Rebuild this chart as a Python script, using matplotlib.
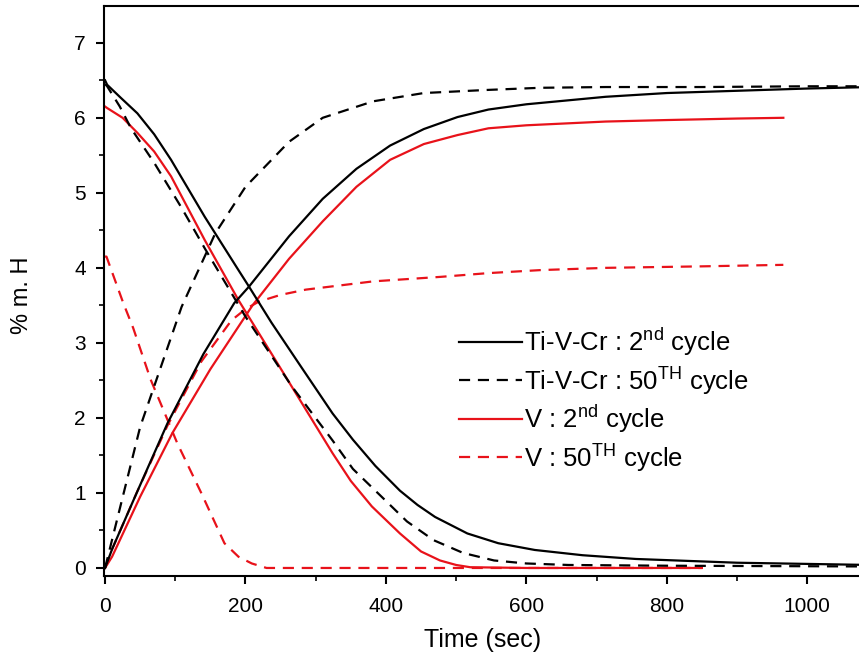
import matplotlib
matplotlib.use('Agg')
import matplotlib.pyplot as plt
from matplotlib.ticker import MultipleLocator

plt.rcParams['font.family'] = ['Liberation Sans', 'DejaVu Sans']
plt.rcParams['mathtext.fontset'] = 'custom'
plt.rcParams['mathtext.rm'] = 'Liberation Sans'

# absorption curves (rising)
t_tvc2_abs = [0, 10, 45, 89, 140, 184, 205, 262, 310, 358, 406, 454, 502, 546, 600, 713, 800, 900, 1000, 1090]
v_tvc2_abs = [0, 0.25, 1.0, 1.93, 2.85, 3.53, 3.75, 4.42, 4.92, 5.32, 5.63, 5.85, 6.01, 6.11, 6.18, 6.28, 6.33, 6.36, 6.39, 6.41]

t_tvc50_abs = [0, 17, 50, 109, 157, 200, 262, 310, 382, 454, 541, 620, 713, 850, 1000, 1090]
v_tvc50_abs = [0, 0.64, 1.88, 3.48, 4.46, 5.08, 5.68, 6.0, 6.22, 6.33, 6.37, 6.40, 6.41, 6.41, 6.42, 6.42]

t_v2_abs = [0, 10, 50, 96, 150, 210, 262, 310, 358, 406, 454, 502, 546, 600, 713, 800, 900, 966]
v_v2_abs = [0, 0.15, 0.95, 1.80, 2.65, 3.5, 4.12, 4.62, 5.08, 5.44, 5.65, 5.77, 5.86, 5.9, 5.95, 5.97, 5.99, 6.0]

t_v50_abs = [0, 10, 45, 89, 137, 180, 200, 219, 250, 286, 382, 478, 546, 620, 713, 850, 966]
v_v50_abs = [0, 0.25, 1.0, 1.9, 2.75, 3.3, 3.45, 3.55, 3.64, 3.71, 3.82, 3.88, 3.93, 3.97, 4.0, 4.02, 4.04]

# desorption curves (falling)
t_tvc2_des = [0, 3, 22, 46, 70, 94, 142, 190, 205, 237, 280, 324, 353, 385, 420, 445, 470, 516, 560, 612, 680, 756, 900, 1090]
v_tvc2_des = [6.5, 6.44, 6.27, 6.06, 5.78, 5.44, 4.68, 3.97, 3.75, 3.27, 2.67, 2.06, 1.71, 1.36, 1.03, 0.84, 0.68, 0.46, 0.33, 0.24, 0.17, 0.12, 0.07, 0.04]

t_tvc50_des = [0, 3, 21, 37, 70, 109, 142, 200, 266, 324, 353, 396, 430, 468, 510, 554, 600, 660, 800, 1090]
v_tvc50_des = [6.45, 6.42, 6.15, 5.86, 5.4, 4.8, 4.26, 3.35, 2.42, 1.7, 1.32, 0.93, 0.62, 0.37, 0.2, 0.1, 0.06, 0.04, 0.03, 0.02]

t_v2_des = [0, 3, 25, 46, 70, 94, 142, 190, 250, 324, 350, 380, 420, 450, 477, 500, 520, 600, 700, 850]
v_v2_des = [6.15, 6.13, 6.0, 5.8, 5.55, 5.22, 4.37, 3.57, 2.66, 1.53, 1.16, 0.82, 0.46, 0.22, 0.1, 0.04, 0.01, 0.0, 0.0, 0.0]

t_v50_des = [0, 2, 26, 40, 65, 103, 137, 170, 190, 209, 230, 400, 600, 850]
v_v50_des = [4.15, 4.15, 3.53, 3.2, 2.51, 1.66, 1.0, 0.33, 0.15, 0.06, 0.0, 0.0, 0.0, 0.0]

labels = [r'Ti-V-Cr : 2$^{\mathrm{nd}}$ cycle', r'Ti-V-Cr : 50$^{\mathrm{TH}}$ cycle',
          r'V : 2$^{\mathrm{nd}}$ cycle', r'V : 50$^{\mathrm{TH}}$ cycle']

red = '#e8121a'
dash = (0, (5, 3.5))

fig = plt.figure(figsize=(8.59, 6.60), dpi=100)
ax = fig.add_axes([104 / 859, 1 - 576 / 660, 1 - 104 / 859 + 0.01, 570 / 660])

lw = 1.6
ax.plot(t_v2_des, v_v2_des, color=red, lw=lw)
ax.plot(t_v50_des, v_v50_des, color=red, lw=lw, ls=dash)
ax.plot(t_v2_abs, v_v2_abs, color=red, lw=lw)
ax.plot(t_v50_abs, v_v50_abs, color=red, lw=lw, ls=dash)
ax.plot(t_tvc2_des, v_tvc2_des, color='black', lw=lw)
ax.plot(t_tvc50_des, v_tvc50_des, color='black', lw=lw, ls=dash)
h1, = ax.plot(t_tvc2_abs, v_tvc2_abs, color='black', lw=lw)
h2, = ax.plot(t_tvc50_abs, v_tvc50_abs, color='black', lw=lw, ls=dash)
h3, = ax.plot([], [], color=red, lw=lw)
h4, = ax.plot([], [], color=red, lw=lw, ls=dash)

ax.set_xlim(-1.5, 1086)
ax.set_ylim(-0.107, 7.49)
ax.spines['right'].set_visible(False)
for s in ['left', 'top', 'bottom']:
    ax.spines[s].set_linewidth(1.5)

ax.xaxis.set_major_locator(MultipleLocator(200))
ax.xaxis.set_minor_locator(MultipleLocator(100))
ax.yaxis.set_major_locator(MultipleLocator(1))
ax.yaxis.set_minor_locator(MultipleLocator(0.5))
ax.tick_params(which='major', direction='out', length=6, width=1.5, labelsize=15)
ax.tick_params(which='minor', direction='out', length=3.5, width=1.2)
ax.tick_params(axis='x', which='major', pad=9)
ax.tick_params(axis='y', which='major', pad=7)
ax.tick_params(top=False, right=False)

ax.set_xlabel('Time (sec)', fontsize=18)
ax.set_ylabel('% m. H', fontsize=17)
ax.xaxis.set_label_coords(0.496, -0.091)
ax.yaxis.set_label_coords(-0.093, 0.493)

leg = ax.legend([h1, h2, h3, h4], labels, loc='upper left',
                bbox_to_anchor=(0.435, 0.48), frameon=False, fontsize=18.5,
                handlelength=2.45, handletextpad=0.05, labelspacing=0.22)

fig.savefig('out.png', dpi=100)
